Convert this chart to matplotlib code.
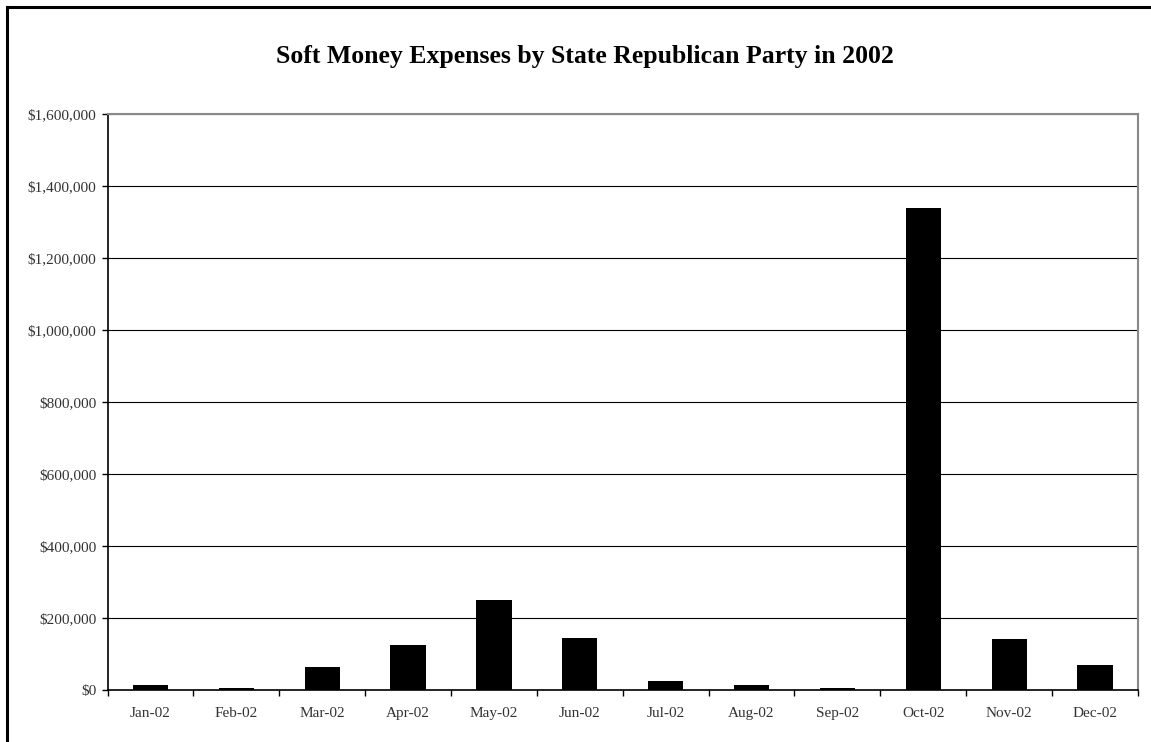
import matplotlib.pyplot as plt
from matplotlib.lines import Line2D
from matplotlib.ticker import FuncFormatter

months = ['Jan-02', 'Feb-02', 'Mar-02', 'Apr-02', 'May-02', 'Jun-02',
          'Jul-02', 'Aug-02', 'Sep-02', 'Oct-02', 'Nov-02', 'Dec-02']
expenses = [14000, 5000, 65000, 124000, 250000, 143500,
            25000, 14000, 5500, 1338000, 141700, 70400]
y_ticks = [0, 200000, 400000, 600000, 800000, 1000000, 1200000, 1400000, 1600000]

plt.rcParams['font.family'] = ['Liberation Serif', 'DejaVu Serif']

fig = plt.figure(figsize=(11.51, 7.42), dpi=100)
ax = fig.add_axes([0.0934, 0.0701, 0.8953, 0.7763])

# outer chart frame (only left and top edges are visible in the reference)
fig.add_artist(Line2D([7 / 1151, 7 / 1151], [0, 1 - 7 / 742], color='black', lw=2.2))
fig.add_artist(Line2D([7 / 1151, 1], [1 - 7 / 742, 1 - 7 / 742], color='black', lw=2.2))

x = list(range(len(months)))
ax.bar(x, expenses, width=0.41, color='black', zorder=3)

ax.set_xlim(-0.5, len(months) - 0.5)
ax.set_ylim(0, 1600000)
ax.set_yticks(y_ticks)
ax.yaxis.set_major_formatter(FuncFormatter(lambda v, p: '${:,.0f}'.format(v)))
ax.grid(axis='y', color='black', lw=0.8, zorder=0)

# category labels centred, ticks on category boundaries
ax.set_xticks(x)
ax.set_xticklabels(months, fontsize=11)
ax.tick_params(axis='x', which='major', length=0, pad=12)
ax.set_xticks([i - 0.5 for i in range(len(months) + 1)], minor=True)
ax.tick_params(axis='x', which='minor', length=4, width=1, direction='out')
ax.tick_params(axis='y', labelsize=11, length=4, width=1, pad=4, colors='black')
for lbl in ax.get_yticklabels() + ax.get_xticklabels():
    lbl.set_color('#333333')

for side in ['left', 'bottom']:
    ax.spines[side].set_color('black')
    ax.spines[side].set_linewidth(1.2)
for side in ['top', 'right']:
    ax.spines[side].set_color('#888888')
    ax.spines[side].set_linewidth(1.5)

fig.text(585 / 1151, 1 - 56 / 742, 'Soft Money Expenses by State Republican Party in 2002',
         ha='center', va='center', fontsize=18.5, fontweight='bold')

fig.savefig('out.png', dpi=100)
